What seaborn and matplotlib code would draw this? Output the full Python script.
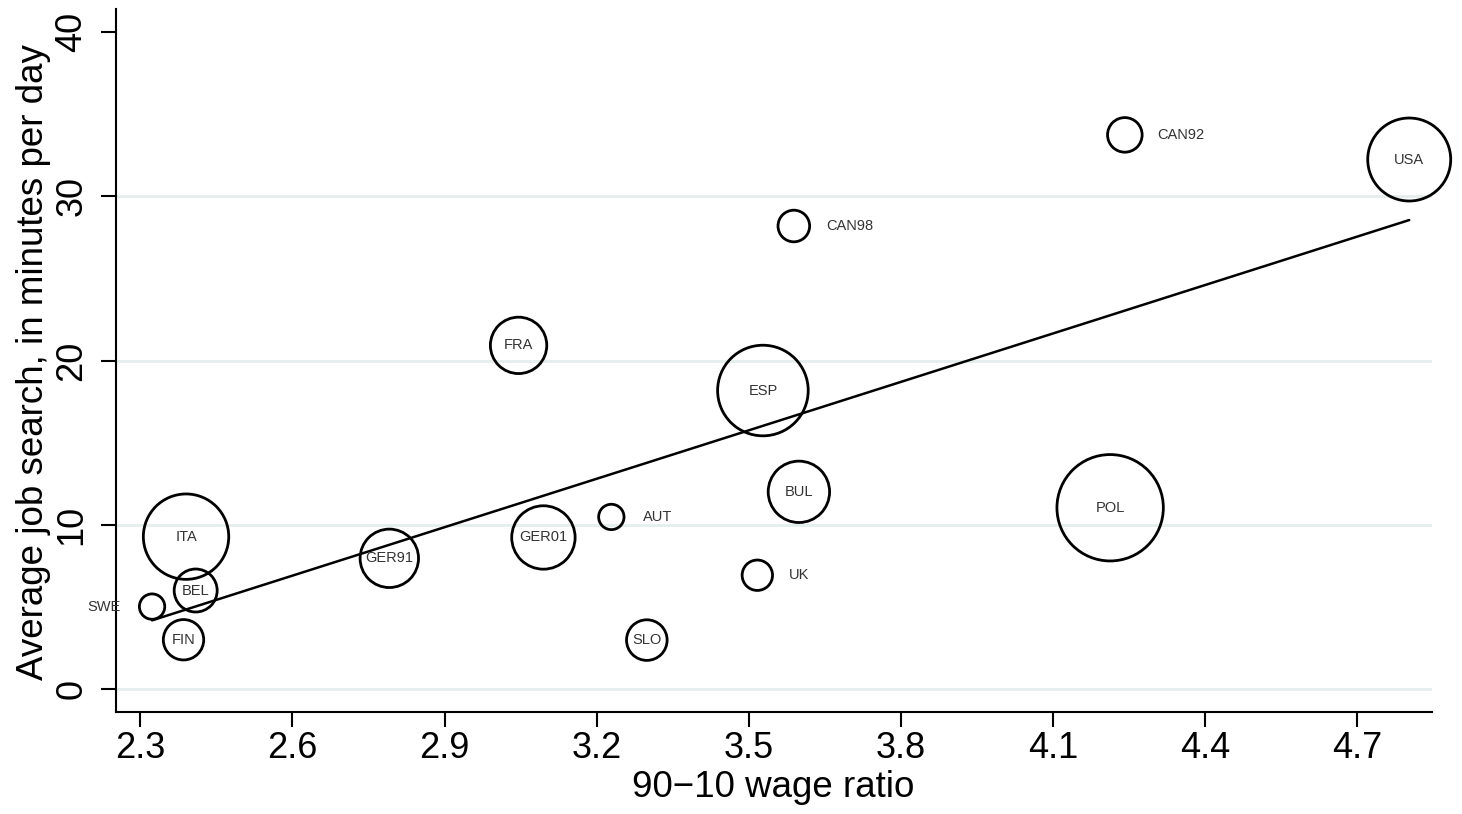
import numpy as np
import pandas as pd
import matplotlib
matplotlib.use("Agg")
import matplotlib.pyplot as plt
import seaborn as sns

# ---- data ----
countries = ["SWE", "FIN", "BEL", "ITA", "GER91", "FRA", "GER01", "AUT",
             "SLO", "UK", "ESP", "CAN98", "BUL", "POL", "CAN92", "USA"]
wage_ratio = [2.323, 2.385, 2.409, 2.390, 2.791, 3.046, 3.095, 3.229,
              3.299, 3.517, 3.528, 3.589, 3.599, 4.213, 4.242, 4.803]
job_search = [5.02, 3.00, 6.00, 9.28, 7.96, 20.93, 9.23, 10.48,
              2.98, 6.93, 18.18, 28.20, 12.01, 11.04, 33.75, 32.25]
weight = [161, 408, 462, 1823, 853, 795, 1005, 161,
          412, 231, 2052, 250, 942, 2830, 299, 1722]

x_ticks = [2.3, 2.6, 2.9, 3.2, 3.5, 3.8, 4.1, 4.4, 4.7]
y_ticks = [0, 10, 20, 30, 40]
x_label = "90\u221210 wage ratio"
y_label = "Average job search, in minutes per day"

# label placement: c = centred in bubble, r = right of bubble, l = left
label_side = {"SWE": "l", "AUT": "r", "UK": "r", "CAN98": "r", "CAN92": "r"}

df = pd.DataFrame({"country": countries, "x": wage_ratio,
                   "y": job_search, "w": weight})

sns.set_style("ticks")
plt.rcParams["font.family"] = ["Liberation Sans", "DejaVu Sans"]
plt.rcParams["text.color"] = "black"
plt.rcParams["axes.labelcolor"] = "black"

fig = plt.figure(figsize=(14.62, 8.14), dpi=100)
ax = fig.add_axes([0.0793, 0.1253, 0.9002, 0.8633])

# grid lines
for yt in y_ticks[:-1]:
    ax.axhline(yt, color="#e5eded", lw=2.0, zorder=0)

wmax = max(weight)
pt_px = 100 / 72.0
smax = 4 * wmax / pt_px ** 2
sns.scatterplot(data=df, x="x", y="y", size="w", sizes=(0, smax),
                size_norm=(0, wmax), legend=False, ax=ax,
                linewidth=2.0, zorder=3, clip_on=False)
pts = ax.collections[-1]
pts.set_facecolor("none")
pts.set_edgecolor("black")
pts.set_clip_on(False)

sns.regplot(data=df, x="x", y="y", scatter=False, ci=None, truncate=True,
            ax=ax, line_kws=dict(color="black", lw=1.8, zorder=2))

for c, xv, yv in zip(countries, wage_ratio, job_search):
    side = label_side.get(c, "c")
    if side == "c":
        off, ha = (0, 0), "center"
    elif side == "r":
        off, ha = (23, 0), "left"
    else:
        off, ha = (-23, 0), "right"
    ax.annotate(c, (xv, yv), xytext=off, textcoords="offset points",
                ha=ha, va="center", fontsize=10.5, color="#333333", zorder=4)

ax.set_xlim(2.2517, 4.848)
ax.set_ylim(-1.4, 41.4)
ax.set_xticks(x_ticks)
ax.set_xticklabels([f"{v:.1f}" for v in x_ticks])
ax.set_yticks(y_ticks)
ax.set_yticklabels([str(v) for v in y_ticks], rotation=90, va="center")

ax.tick_params(axis="both", direction="out", length=11, width=1.5,
               labelsize=26, colors="black", labelcolor="black")
ax.tick_params(axis="x", pad=3)
ax.tick_params(axis="y", pad=8)

for s in ["top", "right"]:
    ax.spines[s].set_visible(False)
for s in ["left", "bottom"]:
    ax.spines[s].set_linewidth(1.5)
    ax.spines[s].set_color("black")

ax.set_xlabel(x_label, fontsize=26.5, color="black")
ax.set_ylabel(y_label, fontsize=26.5, color="black")
ax.xaxis.set_label_coords(0.4992, -0.0825)
ax.yaxis.set_label_coords(-0.0494, 0.4986)

fig.savefig("out.png", dpi=100, facecolor="white")
